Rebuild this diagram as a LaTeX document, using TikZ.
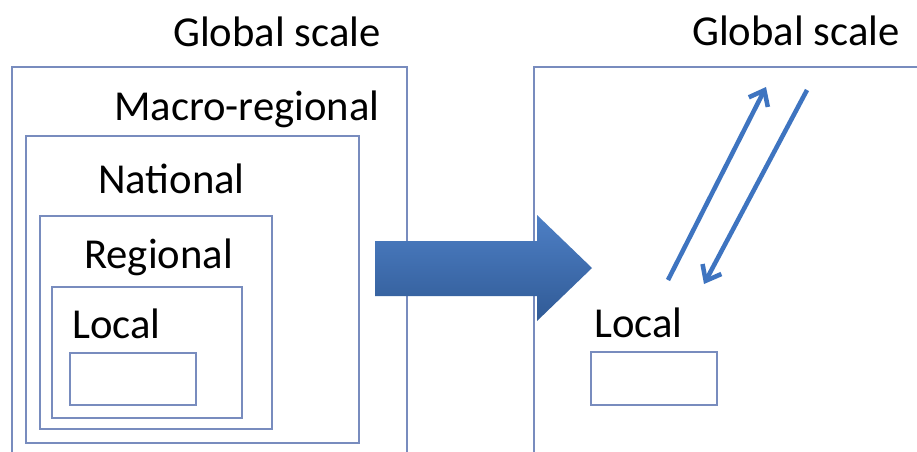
\documentclass[tikz,border=0pt]{standalone}
\usepackage{fontspec}
\setmainfont{Carlito}
\usetikzlibrary{arrows.meta}
\definecolor{frameblue}{RGB}{120,140,190}
\definecolor{linkblue}{RGB}{62,116,192}
\newcommand{\lblsize}{\fontsize{32}{38}\selectfont}

\begin{document}
\begin{tikzpicture}[x=0.75pt,y=-0.75pt,
    scalebox/.style={draw=frameblue,line width=1.5pt},
    lbl/.style={inner sep=0pt,anchor=base west,font=\lblsize},
    link/.style={linkblue,line width=3.4pt,-{Straight Barb[length=10pt,width=16pt]}}]
   \useasboundingbox (0,0) rectangle (917,451);
   \fill[white] (0,0) rectangle (917,451);
   % nested scales
   \draw[scalebox] (12,67)  rectangle (407,456);
   \draw[scalebox] (26,136) rectangle (359,443);
   \draw[scalebox] (40,216) rectangle (272,429);
   \draw[scalebox] (52,287) rectangle (242,418);
   \draw[scalebox] (70,353) rectangle (196,405);
   \node[lbl] (globalL)   at (173,46)  {Global scale};
   \node[lbl] (macro)     at (114,120) {Macro-regional};
   \node[lbl] (national)  at (98,193)  {National};
   \node[lbl] (regional)  at (84,268)  {Regional};
   \node[lbl] (localL)    at (72,338)  {Local};
   % global-local
   \draw[scalebox] (534,67) rectangle (925,456);
   \draw[scalebox] (591,352) rectangle (717,405);
   \node[lbl] (globalR)   at (692,45)  {Global scale};
   \node[lbl] (localR)    at (594,337) {Local};
   \coordinate (upfrom) at (668,280);
   \coordinate (upto)   at (766,87);
   \coordinate (dnfrom) at (807,90);
   \coordinate (dnto)   at (704,284);
   \draw[link] (upfrom) -- (upto);
   \draw[link] (dnfrom) -- (dnto);
   % transition
   \shade[top color=linkblue!92!white,bottom color=linkblue!78!black]
      (375,241) -- (537,241) -- (537,215) -- (592,268)
      -- (537,321) -- (537,296) -- (375,296) -- cycle;
  \end{tikzpicture}
\end{document}
